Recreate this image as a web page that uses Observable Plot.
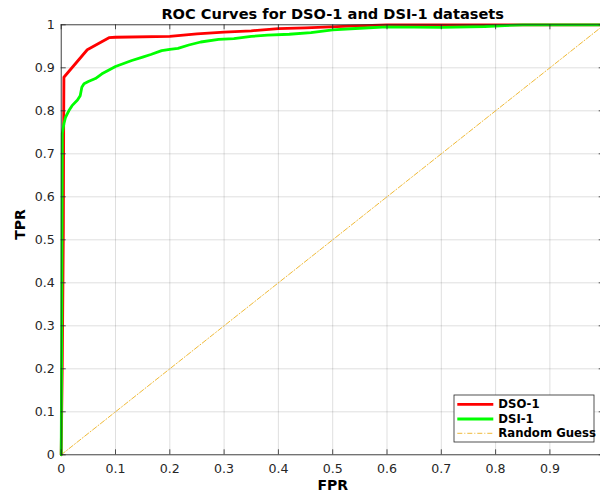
<!DOCTYPE html>
<html><head><meta charset="utf-8">
<script src="https://cdn.jsdelivr.net/npm/d3@7"></script>
<script src="https://cdn.jsdelivr.net/npm/@observablehq/plot@0.6"></script>
<style>
html,body{margin:0;padding:0;overflow:hidden;background:#fff;width:600px;height:496px}
#chart{position:relative;width:604px;height:496px}
svg{max-width:none !important}
</style>
</head><body><div id="chart"></div>
<script>
const title = "ROC Curves for DSO-1 and DSI-1 datasets";
const xTitle = "FPR";
const yTitle = "TPR";
const seriesNames = ["DSO-1", "DSI-1", "Random Guess"];
const seriesColors = ["#ff0000", "#00ff00", "#EDB120"];

const xTicks = [0, 0.1, 0.2, 0.3, 0.4, 0.5, 0.6, 0.7, 0.8, 0.9, 1];
const xTickLabels = ["0", "0.1", "0.2", "0.3", "0.4", "0.5", "0.6", "0.7", "0.8", "0.9", ""];
const yTicks = [0, 0.1, 0.2, 0.3, 0.4, 0.5, 0.6, 0.7, 0.8, 0.9, 1];
const yTickLabels = ["0", "0.1", "0.2", "0.3", "0.4", "0.5", "0.6", "0.7", "0.8", "0.9", "1"];

// DSO-1 ROC points (FPR, TPR)
const dsoFPR = [0, 0.002, 0.004, 0.0045, 0.005, 0.048, 0.088, 0.1, 0.2, 0.25, 0.3, 0.35, 0.4, 0.45, 0.53, 0.6, 1];
const dsoTPR = [0, 0.21, 0.53, 0.75, 0.878, 0.942, 0.970, 0.971, 0.973, 0.979, 0.983, 0.986, 0.991, 0.993, 0.997, 1, 1];

// DSI-1 ROC points (FPR, TPR)
const dsiFPR = [0, 0.001, 0.002, 0.005, 0.008, 0.014, 0.02, 0.03, 0.035, 0.038, 0.042, 0.05, 0.063, 0.075, 0.088, 0.1, 0.115, 0.13, 0.15, 0.165, 0.185, 0.2, 0.215, 0.235, 0.257, 0.29, 0.318, 0.35, 0.38, 0.42, 0.46, 0.5, 0.55, 0.6, 0.7, 0.78, 0.85, 1];
const dsiTPR = [0, 0.3, 0.747, 0.77, 0.785, 0.80, 0.812, 0.825, 0.835, 0.855, 0.863, 0.868, 0.875, 0.886, 0.895, 0.903, 0.91, 0.917, 0.925, 0.931, 0.94, 0.943, 0.945, 0.953, 0.96, 0.966, 0.968, 0.973, 0.976, 0.978, 0.982, 0.988, 0.992, 0.995, 0.994, 0.996, 1, 1];

// Random guess diagonal
const randFPR = [0, 1];
const randTPR = [0, 1];

const toRows = (xs, ys) => xs.map((x, i) => ({fpr: x, tpr: ys[i]}));
const dso = toRows(dsoFPR, dsoTPR);
const dsi = toRows(dsiFPR, dsiTPR);
const rand = toRows(randFPR, randTPR);

const axisColor = "#262626";
const font = "DejaVu Sans";

const plot = Plot.plot({
  width: 604,
  height: 496,
  marginLeft: 60.7,
  marginRight: 0.3,
  marginTop: 24.3,
  marginBottom: 41.7,
  style: {fontFamily: font, background: "white", maxWidth: "none", overflow: "visible"},
  x: {domain: [0, 1], axis: null},
  y: {domain: [0, 1], axis: null},
  marks: [
    Plot.ruleX(xTicks, {x: d => d, stroke: axisColor, strokeOpacity: 0.15}),
    Plot.ruleY(yTicks, {y: d => d, stroke: axisColor, strokeOpacity: 0.15}),
    Plot.line(rand, {x: "fpr", y: "tpr", stroke: seriesColors[2], strokeWidth: 0.9, strokeDasharray: "5,2,1,2"}),
    Plot.line(dso, {x: "fpr", y: "tpr", stroke: seriesColors[0], strokeWidth: 2.8, curve: "linear"}),
    Plot.line(dsi, {x: "fpr", y: "tpr", stroke: seriesColors[1], strokeWidth: 2.8, curve: "linear"}),
    // inward ticks
    Plot.ruleX(xTicks, {x: d => d, y1: 0, y2: 0.0116, stroke: axisColor, strokeWidth: 0.8}),
    Plot.ruleX(xTicks, {x: d => d, y1: 1, y2: 1 - 0.0116, stroke: axisColor, strokeWidth: 0.8}),
    Plot.ruleY(yTicks, {y: d => d, x1: 0, x2: 0.0092, stroke: axisColor, strokeWidth: 0.8}),
    Plot.ruleY(yTicks, {y: d => d, x1: 1, x2: 1 - 0.0092, stroke: axisColor, strokeWidth: 0.8}),
    Plot.frame({stroke: axisColor, strokeWidth: 0.8}),
    // tick labels
    Plot.text(xTicks, {x: d => d, text: (d, i) => xTickLabels[i], frameAnchor: "bottom", lineAnchor: "top", dy: 9, fontSize: 12.6, fill: axisColor}),
    Plot.text(yTicks, {y: d => d, text: (d, i) => yTickLabels[i], frameAnchor: "left", textAnchor: "end", lineAnchor: "middle", dx: -6.4, fontSize: 12.6, fill: axisColor}),
    // titles
    Plot.text([title], {frameAnchor: "top", lineAnchor: "middle", dy: -10, fontSize: 14.6, fontWeight: "bold", fill: "black"}),
    Plot.text([xTitle], {frameAnchor: "bottom", lineAnchor: "middle", dy: 31.2, fontSize: 14, fontWeight: "bold", fill: "black"}),
    Plot.text([yTitle], {frameAnchor: "left", lineAnchor: "middle", dx: -40.6, rotate: -90, fontSize: 14, fontWeight: "bold", fill: "black"})
  ]
});
plot.style.maxWidth = "none";
document.getElementById("chart").appendChild(plot);

// Legend (inside the axes, lower right)
const svg = d3.select(plot);
const lg = svg.append("g").attr("transform", "translate(454,395)").attr("text-anchor", "start");
lg.append("rect").attr("width", 140).attr("height", 47).attr("fill", "white").attr("stroke", axisColor).attr("stroke-width", 0.8);
const rowsY = [9.3, 24, 38.3];
const widths = [2.8, 2.8, 0.9];
const dashes = [null, null, "5,2,1,2"];
seriesNames.forEach((name, i) => {
  lg.append("line").attr("x1", 3.3).attr("x2", 39.3).attr("y1", rowsY[i]).attr("y2", rowsY[i])
    .attr("stroke", seriesColors[i]).attr("stroke-width", widths[i]).attr("stroke-dasharray", dashes[i]);
  lg.append("text").attr("x", 44.3).attr("y", rowsY[i]).attr("dy", "0.35em").attr("text-anchor", "start")
    .attr("font-family", font).attr("font-size", 11.7).attr("font-weight", "bold").attr("fill", "black").text(name);
});
</script>
</body></html>
